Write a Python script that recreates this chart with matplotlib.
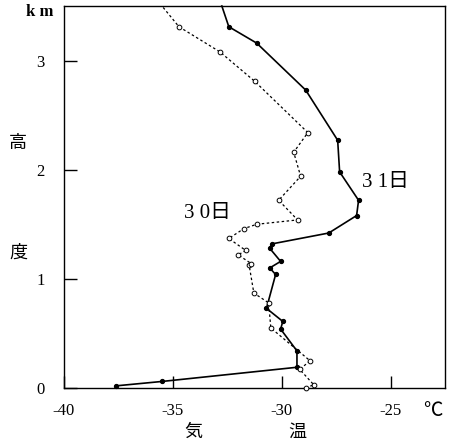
import matplotlib.pyplot as plt

# 31日 (solid)
t31 = [-37.6, -35.5, -29.3, -29.3, -30.05, -29.95, -30.7, -30.28, -30.55, -30.05,
       -30.55, -30.46, -27.84, -26.56, -26.47, -27.34, -27.43, -28.9, -31.15, -32.43, -32.75]
h31 = [0.02, 0.06, 0.19, 0.34, 0.54, 0.61, 0.73, 1.04, 1.10, 1.16,
       1.28, 1.32, 1.42, 1.58, 1.72, 1.98, 2.27, 2.73, 3.16, 3.31, 3.5]

# 30日 (dotted)
t30 = [-28.9, -28.53, -29.17, -28.7, -30.5, -30.6, -31.28, -31.5, -31.4, -32.0,
       -31.65, -32.43, -31.74, -31.15, -29.27, -30.14, -29.13, -29.45, -28.8,
       -31.24, -32.84, -34.72, -35.5]
h30 = [0.0, 0.03, 0.17, 0.25, 0.55, 0.78, 0.87, 1.13, 1.14, 1.22,
       1.26, 1.37, 1.46, 1.50, 1.54, 1.72, 1.94, 2.16, 2.34,
       2.81, 3.08, 3.31, 3.5]

serif = ['Liberation Serif', 'DejaVu Serif']
mixed = ['Liberation Serif', 'Noto Sans CJK JP', 'DejaVu Sans']
cjk = ['Noto Sans CJK JP', 'DejaVu Sans']

fig = plt.figure(figsize=(4.51, 4.44), dpi=100)
ax = fig.add_axes([0.1419, 0.1261, 0.8448, 0.8604])

ax.plot(t31, h31, color='black', lw=1.2, marker='o', ms=2.8, mfc='black',
        markevery=list(range(len(t31) - 1)), clip_on=False, zorder=3)
ax.plot(t30, h30, color='black', lw=0.9, ls=(0, (2, 2)), marker='o', ms=3.4,
        mfc='white', mew=0.7, markevery=list(range(len(t30) - 1)), clip_on=False, zorder=3)

ax.set_xlim(-40, -22.5)
ax.set_ylim(0, 3.5)
ax.set_xticks([-40, -35, -30, -25])
ax.set_yticks([0, 1, 2, 3])
ax.set_xticklabels(['-40', '-35', '-30', '-25'], fontfamily=serif, fontsize=12)
ax.set_yticklabels(['0', '1', '2', '3'], fontfamily=serif, fontsize=12)
ax.tick_params(direction='in', length=9, width=1)
ax.tick_params(axis='x', pad=11)
ax.tick_params(axis='y', pad=14)
for s in ax.spines.values():
    s.set_linewidth(1)

fig.text(385 / 451, 1 - 183 / 444, '3 1日', ha='center', va='center', fontsize=15,
         family=mixed)
fig.text(208 / 451, 1 - 213 / 444, '3 0日', ha='center', va='center', fontsize=15,
         family=mixed)
fig.text(40 / 451, 1 - 12 / 444, 'k m', ha='center', va='center', fontsize=12,
         family=serif, fontweight='bold')
fig.text(18 / 451, 1 - 143 / 444, '高', ha='center', va='center', fontsize=13, family=cjk)
fig.text(18 / 451, 1 - 253 / 444, '度', ha='center', va='center', fontsize=13, family=cjk)
fig.text(193 / 451, 1 - 432 / 444, '気', ha='center', va='center', fontsize=13, family=cjk)
fig.text(297 / 451, 1 - 432 / 444, '温', ha='center', va='center', fontsize=13, family=cjk)
fig.text(433 / 451, 1 - 410 / 444, '℃', ha='center', va='center', fontsize=14, family=cjk)

fig.savefig('out.png', dpi=100)
